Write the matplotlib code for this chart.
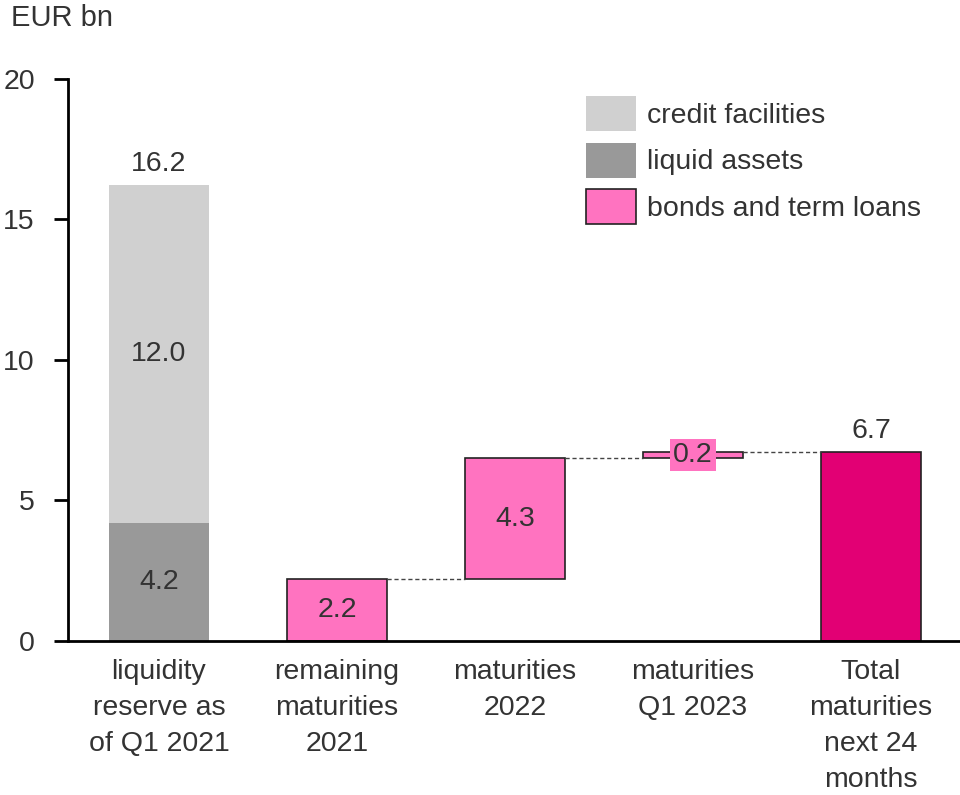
import numpy as np
import matplotlib.pyplot as plt
from matplotlib.patches import Patch

plt.rcParams['font.family'] = ['Liberation Sans', 'DejaVu Sans']

# === Datos ===
categorias = ['liquidity\nreserve as\nof Q1 2021', 'remaining\nmaturities\n2021',
              'maturities\n2022', 'maturities\nQ1 2023', 'Total\nmaturities\nnext 24\nmonths']
liquid_assets = 4.2
credit_facilities = 12.0
vencimientos = [2.2, 4.3, 0.2]
total = 6.7

gris_claro = '#d0d0d0'
gris_oscuro = '#999999'
rosa = '#ff73c0'
magenta = '#e20074'
texto = '#333333'
fs = 20.5

fig = plt.figure(figsize=(9.6, 7.95), dpi=100)
ax = fig.add_axes([0.071, 0.194, 0.929, 0.707])

x = np.arange(len(categorias))
w = 0.56

# Barra de reserva de liquidez (apilada)
ax.bar(x[0], liquid_assets, w, color=gris_oscuro)
ax.bar(x[0], credit_facilities, w, bottom=liquid_assets, color=gris_claro)
ax.text(x[0], liquid_assets / 2, f'{liquid_assets:.1f}', ha='center', va='center', fontsize=fs, color=texto)
ax.text(x[0], liquid_assets + credit_facilities / 2, f'{credit_facilities:.1f}', ha='center', va='center',
        fontsize=fs, color=texto)
ax.text(x[0], liquid_assets + credit_facilities + 0.3, f'{liquid_assets + credit_facilities:.1f}',
        ha='center', va='bottom', fontsize=fs, color=texto)

# Cascada de vencimientos
base = 0.0
for i, v in enumerate(vencimientos):
    xi = x[i + 1]
    ax.bar(xi, v, w, bottom=base, color=rosa, edgecolor='#222222', linewidth=1.2)
    if v < 1:
        ax.text(xi, base + v / 2, f'{v:.1f}', ha='center', va='center', fontsize=fs, color=texto,
                bbox=dict(boxstyle='square,pad=0.1', fc=rosa, ec='none'))
    else:
        ax.text(xi, base + v / 2, f'{v:.1f}', ha='center', va='center', fontsize=fs, color=texto)
    top = base + v
    ax.plot([xi + w / 2, xi + 1 - w / 2], [top, top], ls='--', lw=1, color='#444444', dashes=(3, 2))
    base = top

ax.bar(x[4], total, w, color=magenta, edgecolor='#222222', linewidth=1.2)
ax.text(x[4], total + 0.3, f'{total:.1f}', ha='center', va='bottom', fontsize=fs, color=texto)

ax.set_xlim(-0.51, 4.5)
ax.set_ylim(0, 20)
ax.set_yticks([0, 5, 10, 15, 20])
ax.set_xticks(x)
ax.set_xticklabels(categorias, fontsize=fs, color=texto, linespacing=1.5)
ax.tick_params(axis='x', length=0, pad=13)
ax.tick_params(axis='y', labelsize=fs, labelcolor=texto, length=10, width=2, pad=14)
ax.spines['top'].set_visible(False)
ax.spines['right'].set_visible(False)
ax.spines['left'].set_linewidth(2)
ax.spines['bottom'].set_linewidth(2)

fig.text(0.011, 0.977, 'EUR bn', fontsize=21, color=texto, ha='left', va='center')

handles = [Patch(facecolor=gris_claro, label='credit facilities'),
           Patch(facecolor=gris_oscuro, label='liquid assets'),
           Patch(facecolor=rosa, edgecolor='#222222', linewidth=1.2, label='bonds and term loans')]
ax.legend(handles=handles, loc='upper left', bbox_to_anchor=(0.568, 0.99), frameon=False, fontsize=fs,
          handlelength=1.76, handleheight=1.51, handletextpad=0.37, labelspacing=0.42, labelcolor=texto,
          borderaxespad=0)

fig.savefig('out.png', dpi=100)
